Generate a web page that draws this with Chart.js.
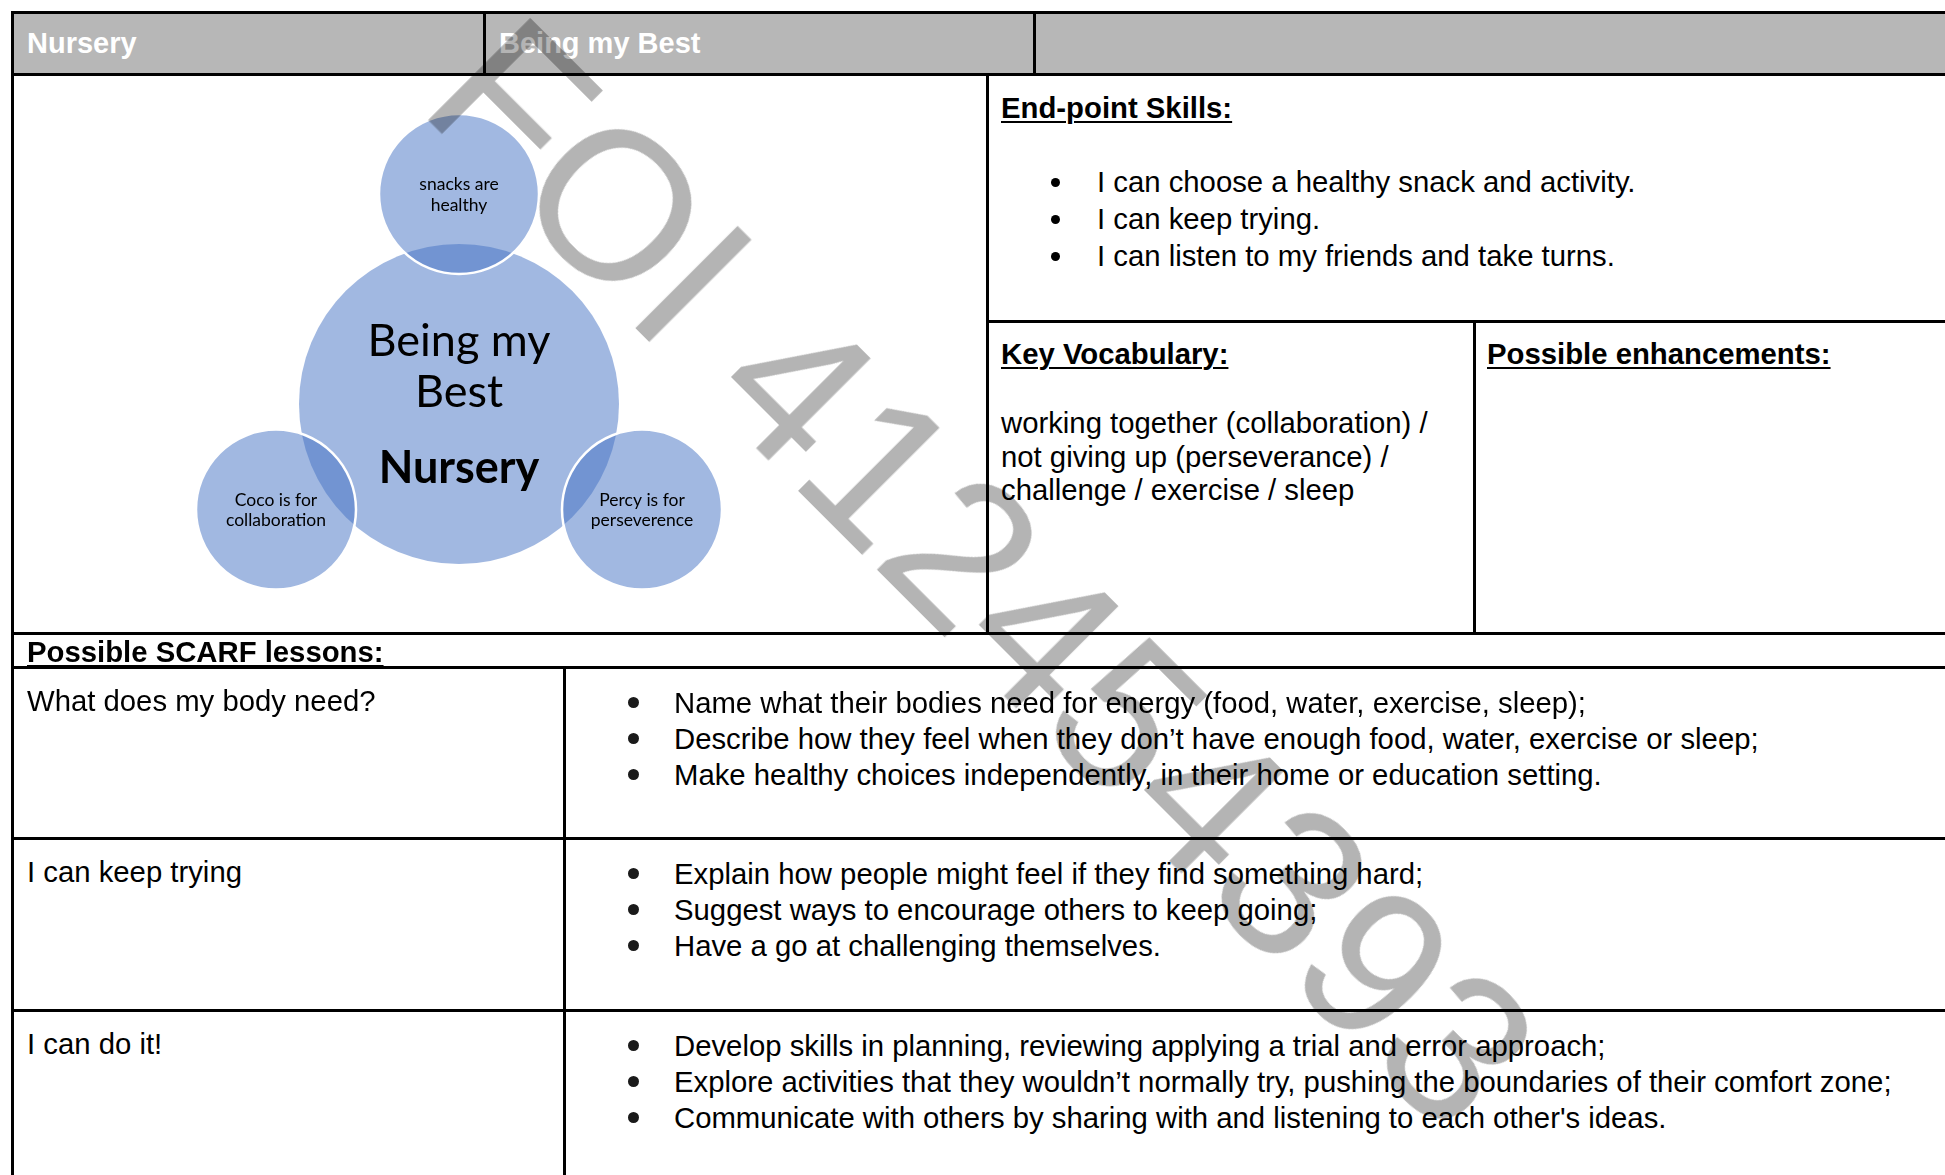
<!DOCTYPE html>
<html><head><meta charset="utf-8">
<script src="https://cdn.jsdelivr.net/npm/chart.js@4.4.1/dist/chart.umd.min.js"></script>
<style>
html,body{margin:0;padding:0;background:#fff;}
#page{position:relative;width:1945px;height:1175px;overflow:hidden;font-family:"Liberation Sans",Arial,sans-serif;color:#000;background:#fff;}
.hl{position:absolute;height:3px;background:#000;}
.vl{position:absolute;width:3px;background:#000;}
.t{position:absolute;white-space:nowrap;font-size:29.3px;line-height:36px;}
.h{font-weight:bold;text-decoration:underline;text-decoration-thickness:2px;text-underline-offset:3px;}
.hd{position:absolute;white-space:nowrap;font-size:29px;line-height:28px;font-weight:bold;color:#fff;}
.dot{position:absolute;border-radius:50%;background:#000;}
#wm{position:absolute;font-family:"Liberation Sans",Arial,sans-serif;font-size:210px;line-height:210px;color:rgb(180,180,180);mix-blend-mode:multiply;white-space:nowrap;transform:rotate(45deg);pointer-events:none;}
#bubbles{position:absolute;left:159px;top:104px;}
</style></head>
<body>
<div id="page">
  <div style="position:absolute;left:12px;top:12px;width:1933px;height:62px;background:#b7b7b7;"></div>
  <canvas id="bubbles" width="600" height="600"></canvas>
</div>
<script>
// ---------- data ----------
const headerCells = ["Nursery", "Being my Best", ""];
const endPointTitle = "End-point Skills:";
const endPointSkills = [
  "I can choose a healthy snack and activity.",
  "I can keep trying.",
  "I can listen to my friends and take turns."
];
const keyVocabTitle = "Key Vocabulary:";
const keyVocabulary = [
  "working together (collaboration) /",
  "not giving up (perseverance) /",
  "challenge / exercise / sleep"
];
const enhancementsTitle = "Possible enhancements:";
const lessonsTitle = "Possible SCARF lessons:";
const lessonTitles = ["What does my body need?", "I can keep trying", "I can do it!"];
const lessonObjectives = [
  ["Name what their bodies need for energy (food, water, exercise, sleep);",
   "Describe how they feel when they don\u2019t have enough food, water, exercise or sleep;",
   "Make healthy choices independently, in their home or education setting."],
  ["Explain how people might feel if they find something hard;",
   "Suggest ways to encourage others to keep going;",
   "Have a go at challenging themselves."],
  ["Develop skills in planning, reviewing applying a trial and error approach;",
   "Explore activities that they wouldn\u2019t normally try, pushing the boundaries of their comfort zone;",
   "Communicate with others by sharing with and listening to each other's ideas."]
];
const circleLabels = [
  ["Being my", "Best", "Nursery"],
  ["snacks are", "healthy"],
  ["Coco is for", "collaboration"],
  ["Percy is for", "perseverence"]
];
const circleX = [0, 0, -1.83, 1.83];
const circleY = [0, 2.10, -1.056, -1.056];
const circleSize = [1.60, 0.80, 0.80, 0.80];
const watermarkText = "FOI 412454393";

// ---------- layout ----------
const page = document.getElementById('page');
function el(cls, css, text) {
  const d = document.createElement('div');
  if (cls) d.className = cls;
  Object.assign(d.style, css);
  if (text !== undefined) d.textContent = text;
  page.appendChild(d);
  return d;
}
function hline(x1, x2, y) { el('hl', {left: x1 + 'px', top: (y - 1.5) + 'px', width: (x2 - x1) + 'px'}); }
function vline(x, y1, y2) { el('vl', {left: (x - 1.5) + 'px', top: y1 + 'px', height: (y2 - y1) + 'px'}); }

// header
const headerX = [27, 499, 1049];
headerCells.forEach((h, i) => { if (h) el('hd', {left: headerX[i] + 'px', top: '29px'}, h); });

// end-point skills
el('t h', {left: '1001px', top: '90px'}, endPointTitle);
endPointSkills.forEach((s, i) => {
  const cy = 182 + i * 37;
  el('dot', {left: '1051px', top: (cy - 4.5) + 'px', width: '9px', height: '9px'});
  el('t', {left: '1097px', top: (cy - 18) + 'px'}, s);
});

// key vocabulary & enhancements
el('t h', {left: '1001px', top: '336px'}, keyVocabTitle);
keyVocabulary.forEach((s, i) => {
  el('t', {left: '1001px', top: (406 + i * 33.5) + 'px', lineHeight: '33.5px'}, s);
});
el('t h', {left: '1487px', top: '336px'}, enhancementsTitle);

// lessons
el('t h', {left: '27px', top: '634px'}, lessonsTitle);
const rowTop = [667, 838, 1010];
lessonTitles.forEach((title, r) => {
  const base = rowTop[r] + 18;
  el('t', {left: '27px', top: (base - 2) + 'px'}, title);
  lessonObjectives[r].forEach((s, i) => {
    const cy = base + 18 + i * 36;
    el('dot', {left: '628px', top: (cy - 6) + 'px', width: '11px', height: '11px', background: '#1a1a1a'});
    el('t', {left: '674px', top: (cy - 18) + 'px'}, s);
  });
});

// grid lines
hline(11, 1945, 12);
hline(11, 1945, 74);
hline(987, 1945, 321);
hline(11, 1945, 633);
hline(11, 1945, 667);
hline(11, 1945, 838);
hline(11, 1945, 1010);
vline(12, 11, 1175);
vline(484, 11, 74);
vline(1034, 11, 74);
vline(987, 74, 633);
vline(1474, 321, 633);
vline(564, 667, 1175);

// ---------- circles (scatter points sized through the x scale) ----------
function sizePx(c) {
  const xs = c.chart.scales.x;
  if (!xs || c.dataIndex === undefined) return 0;
  return Math.abs(xs.getPixelForValue(circleSize[c.dataIndex]) - xs.getPixelForValue(0));
}
const labelPlugin = {
  id: 'circleLabels',
  afterDatasetsDraw(chart) {
    const ctx = chart.ctx;
    const meta = chart.getDatasetMeta(0);
    ctx.save();
    ctx.fillStyle = '#000';
    ctx.textAlign = 'center';
    ctx.textBaseline = 'alphabetic';
    meta.data.forEach((pt, i) => {
      const lines = circleLabels[i];
      if (i === 0) {
        const offs = [-48, 3, 79];
        lines.forEach((s, k) => {
          ctx.font = (k === 2 ? 'bold ' : '') + '45px Lato, "Open Sans", sans-serif';
          ctx.fillText(s, pt.x, pt.y + offs[k]);
        });
      } else {
        const offs = [-4, 16.5];
        lines.forEach((s, k) => {
          ctx.font = '17.5px Lato, "Open Sans", sans-serif';
          ctx.fillText(s, pt.x, pt.y + offs[k]);
        });
      }
    });
    ctx.restore();
  }
};
new Chart(document.getElementById('bubbles'), {
  type: 'scatter',
  data: {
    labels: circleLabels.map(l => l.join(' ')),
    datasets: [{
      data: circleX.map((x, i) => ({x: x, y: circleY[i]})),
      showLine: false,
      pointStyle: 'circle',
      pointBackgroundColor: 'rgba(68,114,196,0.5)',
      pointBorderColor: '#ffffff',
      pointBorderWidth: [0, 2.5, 2.5, 2.5],
      pointRadius: sizePx,
      pointHoverRadius: sizePx
    }]
  },
  options: {
    responsive: false,
    animation: false,
    devicePixelRatio: 1,
    events: [],
    layout: {padding: 0},
    plugins: {legend: {display: false}, tooltip: {enabled: false}},
    scales: {
      x: {type: 'linear', min: -3, max: 3, display: false},
      y: {type: 'linear', min: -3, max: 3, display: false}
    }
  },
  plugins: [labelPlugin]
});

// ---------- watermark ----------
const wm = el('', {left: '415px', top: (109 - 177.8) + 'px', transformOrigin: '0 177.8px'}, watermarkText);
wm.id = 'wm';
</script>
</body></html>
